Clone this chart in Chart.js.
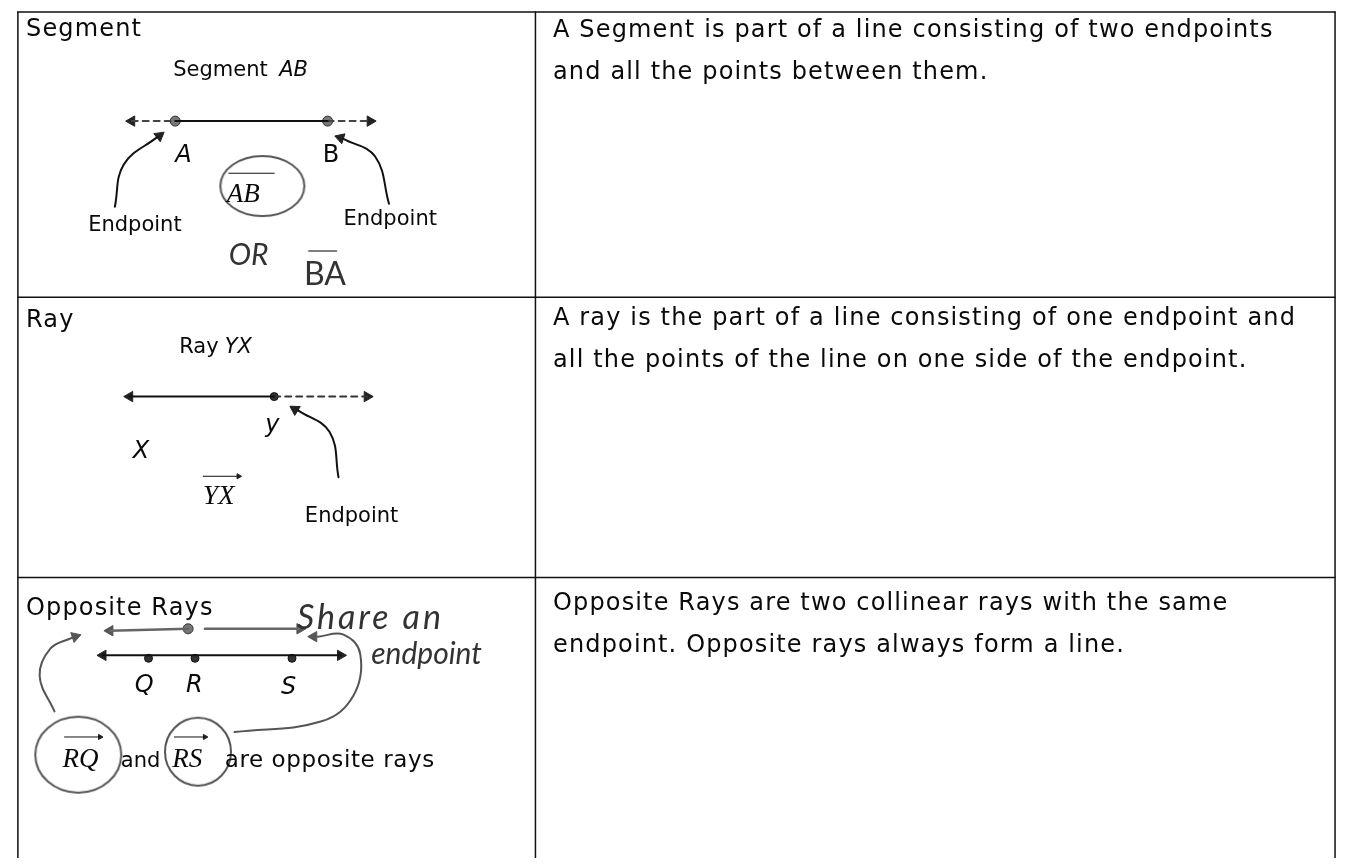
<!DOCTYPE html>
<html>
<head>
<meta charset="utf-8">
<title>Segment, Ray, Opposite Rays</title>
<script src="https://cdn.jsdelivr.net/npm/chart.js@4.4.0/dist/chart.umd.min.js"></script>
<style>
html, body { margin: 0; padding: 0; background: #fff; overflow: hidden; }
body { width: 1346px; height: 865px; position: relative; font-family: "DejaVu Sans", sans-serif; color: #0a0a0a; }
#diagram { position: absolute; left: 0; top: 0; }
.txt { position: absolute; font-size: 24px; line-height: 42px; letter-spacing: 1.15px; white-space: nowrap; }
</style>
</head>
<body>
<canvas id="diagram" width="1346" height="865"></canvas>

<div class="txt" style="left:26px; top:7px">Segment</div>
<div class="txt" style="left:553px; top:8px">A Segment is part of a line consisting of two endpoints<br>and all the points between them.</div>

<div class="txt" style="left:26px; top:298px">Ray</div>
<div class="txt" style="left:553px; top:296px">A ray is the part of a line consisting of one endpoint and<br>all the points of the line on one side of the endpoint.</div>

<div class="txt" style="left:26px; top:586px">Opposite Rays</div>
<div class="txt" style="left:553px; top:581px">Opposite Rays are two collinear rays with the same<br>endpoint. Opposite rays always form a line.</div>

<script>
// Table rules (page pixels)
const ruleRows = [5, 295, 580];
const ruleCols = [11, 534, 1342];

// Segment AB
const segSolid = [{x: 170, y: 116}, {x: 324, y: 116}];
const segDashLeft = [{x: 126, y: 116}, {x: 170, y: 116}];
const segDashRight = [{x: 324, y: 116}, {x: 367, y: 116}];
const segCurveLeft = [{x: 109, y: 203}, {x: 118, y: 160}, {x: 152, y: 132}];
const segCurveRight = [{x: 386, y: 200}, {x: 372, y: 152}, {x: 340, y: 134}];
const segOverline = [{x: 224, y: 169}, {x: 270, y: 169}];
const baOverline = [{x: 305, y: 248}, {x: 333, y: 248}];

// Ray YX
const raySolid = [{x: 124, y: 396}, {x: 270, y: 396}];
const rayDash = [{x: 270, y: 396}, {x: 364, y: 396}];
const rayCurve = [{x: 335, y: 478}, {x: 326, y: 432}, {x: 294, y: 410}];
const rayOverArrow = [{x: 198, y: 477}, {x: 234, y: 477}];

// Opposite rays
const oppLine = [{x: 97, y: 659}, {x: 337, y: 659}];
const oppUpperLeft = [{x: 104, y: 634}, {x: 183, y: 632}];
const oppUpperRight = [{x: 200, y: 632}, {x: 296, y: 632}];
const oppCurveLeft = [{x: 48, y: 716}, {x: 33, y: 680}, {x: 44, y: 652}, {x: 66, y: 641}];
const oppCurveRight = [{x: 230, y: 737}, {x: 318, y: 726}, {x: 350, y: 700}, {x: 357, y: 658}, {x: 340, y: 638}, {x: 314, y: 640}];
const rqOverArrow = [{x: 58, y: 742}, {x: 94, y: 742}];
const rsOverArrow = [{x: 169, y: 742}, {x: 200, y: 742}];

// Points on the lines
const blackDots = [{x: 270, y: 396}, {x: 143, y: 662}, {x: 190, y: 662}, {x: 288, y: 662}];
const grayDots = [{x: 170, y: 116}, {x: 324, y: 116}, {x: 183, y: 632}];

// Arrow heads: position and direction (degrees, 0 = up)
const solidHeads = [
  {x: 126, y: 116, r: -90}, {x: 367, y: 116, r: 90},
  {x: 154, y: 131, r: 52}, {x: 337, y: 133, r: -72},
  {x: 124, y: 396, r: -90}, {x: 364, y: 396, r: 90},
  {x: 291, y: 409, r: -58},
  {x: 97, y: 659, r: -90}, {x: 337, y: 659, r: 90}
];
const penHeads = [
  {x: 69, y: 640, r: 72}, {x: 310, y: 640, r: -90},
  {x: 104, y: 634, r: -90}, {x: 296, y: 632, r: 90}
];
const smallHeads = [{x: 234, y: 477, r: 90}, {x: 94, y: 742, r: 90}, {x: 200, y: 742, r: 90}];

// Pencil circles: centre and radii
const penCircles = [
  {x: 258, y: 182, rx: 42, ry: 30},
  {x: 72, y: 760, rx: 43, ry: 38},
  {x: 193, y: 757, rx: 33, ry: 34}
];

// Labels: text, left x, baseline y, kind
const diagramLabels = [
  {t: 'Segment', x: 168, y: 70, k: 'caption'},
  {t: 'AB', x: 275, y: 70, k: 'captionItalic'},
  {t: 'A', x: 170, y: 158, k: 'letter'},
  {t: 'B', x: 319, y: 158, k: 'letterUp'},
  {t: 'Endpoint', x: 82, y: 228, k: 'label'},
  {t: 'Endpoint', x: 340, y: 222, k: 'label'},
  {t: 'AB', x: 222, y: 198, k: 'math'},
  {t: 'OR', x: 224, y: 262, k: 'pen'},
  {t: 'BA', x: 300, y: 283, k: 'penBig'},
  {t: 'Ray', x: 174, y: 352, k: 'caption'},
  {t: 'YX', x: 220, y: 352, k: 'captionItalic'},
  {t: 'y', x: 261, y: 432, k: 'letter'},
  {t: 'X', x: 127, y: 458, k: 'letter'},
  {t: 'YX', x: 198, y: 505, k: 'math'},
  {t: 'Endpoint', x: 301, y: 523, k: 'label'},
  {t: 'Q', x: 129, y: 696, k: 'letter'},
  {t: 'R', x: 181, y: 696, k: 'letter'},
  {t: 'S', x: 277, y: 698, k: 'letter'},
  {t: 'Share an', x: 293, y: 632, k: 'penWide'},
  {t: 'endpoint', x: 368, y: 668, k: 'pen'},
  {t: 'RQ', x: 56, y: 772, k: 'math'},
  {t: 'and', x: 115, y: 772, k: 'label'},
  {t: 'RS', x: 167, y: 772, k: 'math'},
  {t: 'are opposite rays', x: 220, y: 772, k: 'body'}
];

const labelFonts = {
  caption: '21px "DejaVu Sans"',
  captionItalic: 'italic 21px "DejaVu Sans"',
  label: '21px "DejaVu Sans"',
  body: '23px "DejaVu Sans"',
  letter: 'italic 24px "DejaVu Sans"',
  letterUp: '24px "DejaVu Sans"',
  math: 'italic 27px "Liberation Serif"',
  pen: 'italic 30px "Lato"',
  penWide: 'italic 34px "Lato"',
  penBig: '32px "Lato"'
};
const labelSpacing = { penWide: '3px', body: '0.6px' };
const labelColors = { pen: '#333', penWide: '#333', penBig: '#333' };

function lineSet(data, opts) {
  return Object.assign({
    data: data,
    showLine: true,
    borderColor: '#111',
    borderWidth: 2,
    pointRadius: 0,
    tension: 0,
    fill: false
  }, opts || {});
}

function headSet(data, radius, color) {
  return {
    data: data,
    showLine: false,
    pointStyle: 'triangle',
    pointRadius: radius,
    pointRotation: ctx => ctx.raw ? ctx.raw.r : 0,
    backgroundColor: color,
    borderColor: color,
    borderWidth: 1
  };
}

// Ellipse outline used as a point style
function ellipseStyle(rx, ry) {
  const c = document.createElement('canvas');
  c.width = rx * 2 + 6;
  c.height = ry * 2 + 6;
  const g = c.getContext('2d');
  g.strokeStyle = '#555';
  g.lineWidth = 2;
  g.beginPath();
  g.ellipse(rx + 3, ry + 3, rx, ry, 0, 0, Math.PI * 2);
  g.stroke();
  return c;
}

const datasets = [];

// table rules
ruleRows.forEach(y => datasets.push(lineSet([{x: ruleCols[0], y: y}, {x: ruleCols[2], y: y}], {borderWidth: 1.5})));
ruleCols.forEach(x => datasets.push(lineSet([{x: x, y: ruleRows[0]}, {x: x, y: 865}], {borderWidth: 1.5})));

datasets.push(lineSet(segSolid));
datasets.push(lineSet(segDashLeft, {borderDash: [6, 5], borderColor: '#444'}));
datasets.push(lineSet(segDashRight, {borderDash: [6, 5], borderColor: '#444'}));
datasets.push(lineSet(segCurveLeft, {tension: 0.4}));
datasets.push(lineSet(segCurveRight, {tension: 0.4}));
datasets.push(lineSet(segOverline, {borderWidth: 1}));
datasets.push(lineSet(baOverline, {borderWidth: 1.5, borderColor: '#555'}));

datasets.push(lineSet(raySolid));
datasets.push(lineSet(rayDash, {borderDash: [6, 5], borderColor: '#333'}));
datasets.push(lineSet(rayCurve, {tension: 0.4}));
datasets.push(lineSet(rayOverArrow, {borderWidth: 1}));

datasets.push(lineSet(oppLine));
datasets.push(lineSet(oppUpperLeft, {borderColor: '#666', borderWidth: 2.5}));
datasets.push(lineSet(oppUpperRight, {borderColor: '#666', borderWidth: 2.5}));
datasets.push(lineSet(oppCurveLeft, {tension: 0.4, borderColor: '#555'}));
datasets.push(lineSet(oppCurveRight, {tension: 0.4, borderColor: '#555'}));
datasets.push(lineSet(rqOverArrow, {borderWidth: 1}));
datasets.push(lineSet(rsOverArrow, {borderWidth: 1}));

datasets.push(headSet(solidHeads, 6, '#222'));
datasets.push(headSet(penHeads, 6, '#555'));
datasets.push(headSet(smallHeads, 3, '#222'));

datasets.push({
  data: blackDots, showLine: false, pointStyle: 'circle', pointRadius: 4,
  backgroundColor: '#333', borderColor: '#111', borderWidth: 1
});
datasets.push({
  data: grayDots, showLine: false, pointStyle: 'circle', pointRadius: 5,
  backgroundColor: '#777', borderColor: '#333', borderWidth: 1
});
datasets.push({
  data: penCircles, showLine: false,
  pointStyle: penCircles.map(c => ellipseStyle(c.rx, c.ry))
});

// draws the text labels through the chart scales
const labelPlugin = {
  id: 'diagramLabels',
  afterDatasetsDraw(chart) {
    const ctx = chart.ctx;
    const xs = chart.scales.x, ys = chart.scales.y;
    ctx.save();
    ctx.textBaseline = 'alphabetic';
    ctx.textAlign = 'left';
    diagramLabels.forEach(l => {
      ctx.font = labelFonts[l.k];
      ctx.letterSpacing = labelSpacing[l.k] || '0px';
      ctx.fillStyle = labelColors[l.k] || '#0a0a0a';
      ctx.fillText(l.t, xs.getPixelForValue(l.x), ys.getPixelForValue(l.y));
    });
    ctx.restore();
  }
};

new Chart(document.getElementById('diagram'), {
  type: 'scatter',
  data: { datasets: datasets },
  options: {
    responsive: false,
    animation: false,
    devicePixelRatio: 1,
    events: [],
    layout: { padding: 0 },
    plugins: { legend: { display: false }, tooltip: { enabled: false } },
    scales: {
      x: { type: 'linear', min: 0, max: 1346, display: false },
      y: { type: 'linear', min: 0, max: 865, reverse: true, display: false }
    },
    elements: { line: { borderCapStyle: 'round' } }
  },
  plugins: [labelPlugin]
});
</script>
</body>
</html>
